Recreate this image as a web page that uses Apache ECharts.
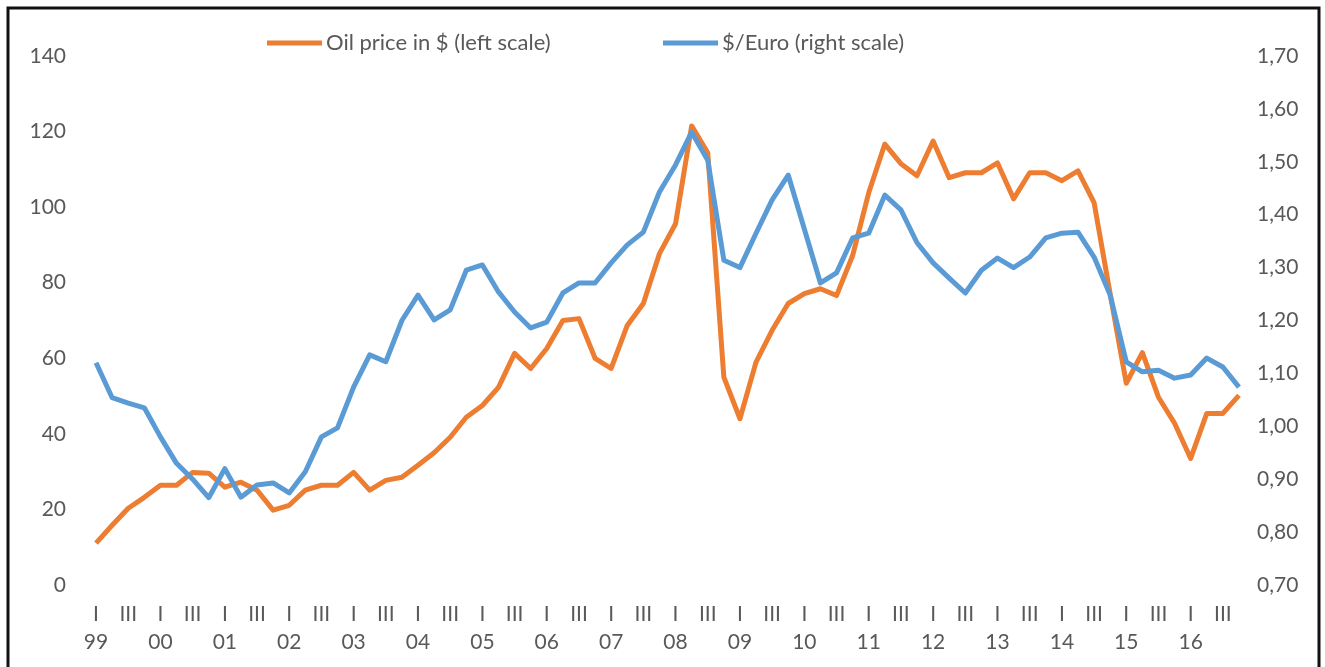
<!DOCTYPE html>
<html>
<head>
<meta charset="utf-8">
<script src="https://cdn.jsdelivr.net/npm/echarts@6/dist/echarts.min.js"></script>
<style>
  html, body { margin: 0; padding: 0; background: #fff; }
  #main { width: 1325px; height: 667px; }
</style>
</head>
<body>
<div id="main"></div>
<script>
// quarters 1999 Q1 .. 2016 Q4
var years = ['99', '00', '01', '02', '03', '04', '05', '06', '07', '08',
             '09', '10', '11', '12', '13', '14', '15', '16'];
var quarters = ['I', 'II', 'III', 'IV'];

var oilPrice = [11.1, 15.8, 20.3, 23.2, 26.4, 26.4, 29.8, 29.6, 25.9, 27.2,
                25.1, 19.8, 21.1, 25.1, 26.4, 26.4, 29.8, 25.1, 27.7, 28.5,
                31.7, 35.0, 39.1, 44.4, 47.5, 52.3, 61.3, 57.3, 62.6, 70.0,
                70.5, 60.0, 57.3, 68.7, 74.5, 87.7, 95.6, 121.5, 114.4, 55.0,
                44.0, 59.0, 67.4, 74.5, 77.1, 78.4, 76.6, 87.2, 103.8, 116.7,
                111.5, 108.3, 117.5, 107.8, 109.1, 109.1, 111.7, 102.2, 109.1, 109.1,
                107.0, 109.6, 101.2, 77.0, 53.4, 61.5, 49.7, 42.8, 33.5, 45.4,
                45.4, 50.2];

var dollarEuro = [1.12, 1.054, 1.044, 1.035, 0.98, 0.93, 0.90, 0.865, 0.92, 0.866,
                  0.889, 0.893, 0.874, 0.914, 0.98, 0.997, 1.074, 1.135, 1.122, 1.20,
                  1.248, 1.201, 1.22, 1.295, 1.305, 1.254, 1.216, 1.186, 1.197, 1.252,
                  1.271, 1.271, 1.309, 1.343, 1.367, 1.443, 1.494, 1.556, 1.503, 1.314,
                  1.30, 1.365, 1.428, 1.475, 1.373, 1.271, 1.29, 1.356, 1.365, 1.437,
                  1.409, 1.347, 1.309, 1.28, 1.252, 1.295, 1.318, 1.30, 1.32, 1.356,
                  1.365, 1.367, 1.32, 1.248, 1.122, 1.103, 1.106, 1.091, 1.097, 1.129,
                  1.112, 1.074];

var categories = [];
years.forEach(function (y) {
  quarters.forEach(function (q) { categories.push(y + '|' + q); });
});

var oilName = 'Oil price in $ (left scale)';
var euroName = '$/Euro (right scale)';
var textColor = '#595959';
var font = 'Lato, "Open Sans", sans-serif';

var chart = echarts.init(document.getElementById('main'));

function legendAt(left, name) {
  return {
    top: 27,
    left: left,
    icon: 'rect',
    itemWidth: 55,
    itemHeight: 5,
    textStyle: { color: textColor, fontSize: 22, fontFamily: font, padding: [0, 0, 0, -1] },
    data: [name]
  };
}

chart.setOption({
  backgroundColor: '#fff',
  textStyle: { fontFamily: font },
  graphic: [{
    type: 'rect',
    shape: { x: 8, y: 8, width: 1311, height: 700 },
    style: { fill: 'none', stroke: '#111', lineWidth: 3 },
    silent: true
  }],
  legend: [legendAt(262, oilName), legendAt(658, euroName)],
  grid: { left: 88, right: 78, top: 56, bottom: 82 },
  xAxis: {
    type: 'category',
    data: categories,
    boundaryGap: true,
    axisLine: { show: false },
    axisTick: { show: false },
    axisLabel: {
      interval: 0,
      margin: 15,
      color: textColor,
      fontSize: 21,
      lineHeight: 28,
      fontFamily: font,
      formatter: function (v) {
        var p = v.split('|');
        if (p[1] === 'I') return 'I\n' + p[0];
        if (p[1] === 'III') return 'III';
        return '';
      }
    }
  },
  yAxis: [{
    type: 'value',
    min: 0,
    max: 140,
    interval: 20,
    axisLine: { show: false },
    axisTick: { show: false },
    splitLine: { show: false },
    axisLabel: { color: textColor, fontSize: 21, margin: 22, fontFamily: font }
  }, {
    type: 'value',
    min: 0.7,
    max: 1.7,
    interval: 0.1,
    position: 'right',
    axisLine: { show: false },
    axisTick: { show: false },
    splitLine: { show: false },
    axisLabel: {
      color: textColor,
      fontSize: 21,
      margin: 10,
      fontFamily: font,
      formatter: function (v) { return v.toFixed(2).replace('.', ','); }
    }
  }],
  series: [{
    name: oilName,
    type: 'line',
    yAxisIndex: 0,
    data: oilPrice,
    symbol: 'none',
    lineStyle: { color: '#ED7D31', width: 5, join: 'round' },
    itemStyle: { color: '#ED7D31' },
    animation: false
  }, {
    name: euroName,
    type: 'line',
    yAxisIndex: 1,
    data: dollarEuro,
    symbol: 'none',
    lineStyle: { color: '#5B9BD5', width: 5, join: 'round' },
    itemStyle: { color: '#5B9BD5' },
    animation: false
  }]
});
</script>
</body>
</html>
